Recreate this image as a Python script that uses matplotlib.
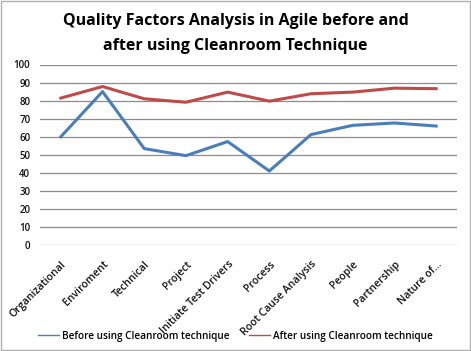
import numpy as np
import matplotlib
matplotlib.use('Agg')
from matplotlib import pyplot as plt

categories = ['Organizational', 'Enviroment', 'Technical', 'Project', 'Initiate Test Drivers',
              'Process', 'Root Cause Analysis', 'People', 'Partnership', 'Nature of...']
before = [60, 85, 53.4, 49.5, 57.3, 41, 61.2, 66.3, 67.6, 65.9]
after = [81.4, 87.8, 81, 79.1, 84.7, 79.7, 83.8, 84.7, 86.9, 86.6]
yticks = list(range(0, 101, 10))

plt.rcParams['font.family'] = ['Open Sans', 'DejaVu Sans']

fig = plt.figure(figsize=(4.71, 3.51), dpi=100)
ax = fig.add_axes([40 / 471, 1 - 245 / 351, 417 / 471, 180.5 / 351])

x = np.arange(len(categories))
ax.plot(x, before, color='#4A7EBB', lw=2.2, label='Before using Cleanroom technique')
ax.plot(x, after, color='#BE4B48', lw=2.2, label='After using Cleanroom technique')

ax.set_xlim(-0.5, len(categories) - 0.5)
ax.set_ylim(0, 100)
ax.set_yticks(yticks)
ax.yaxis.grid(True, color='#8c8c8c', lw=0.9)
ax.set_axisbelow(True)
for s in ax.spines.values():
    s.set_visible(False)
ax.tick_params(length=0, labelsize=7, colors='#111111')
ax.tick_params(axis='y', pad=7)
ax.tick_params(axis='x', pad=10)
ax.set_xticks(x)
ax.set_xticklabels(categories, rotation=45, ha='right', rotation_mode='anchor',
                   fontsize=7.6, fontweight='semibold')
for lbl in ax.get_yticklabels():
    lbl.set_fontweight('semibold')

fig.text(0.5, 0.939, 'Quality Factors Analysis in Agile before and', ha='center', va='center',
         fontsize=11.5, fontweight='bold')
fig.text(0.5, 0.870, 'after using Cleanroom Technique', ha='center', va='center',
         fontsize=11.5, fontweight='bold')

fig.legend(loc='center', bbox_to_anchor=(0.5, 1 - 336 / 351), ncol=2, frameon=False,
           prop={'size': 7.2, 'weight': 'semibold'}, handlelength=2.1, columnspacing=2,
           handletextpad=0.3)
for line in fig.legends[0].get_lines():
    line.set_linewidth(1)

fig.patches.append(plt.Rectangle((0.003, 0.003), 0.994, 0.994, transform=fig.transFigure,
                                 fill=False, edgecolor='#b0b0b0', lw=1))
fig.savefig('out.png', dpi=100)
